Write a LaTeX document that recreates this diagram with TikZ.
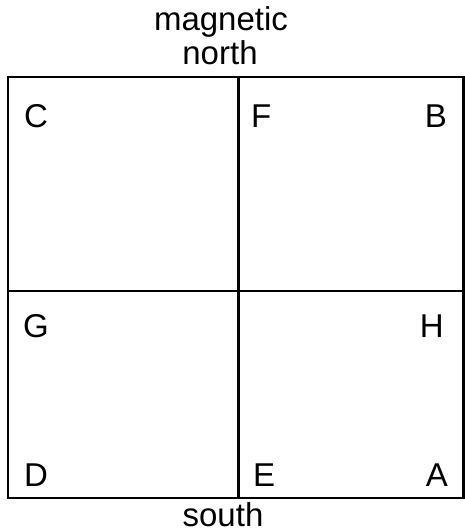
\documentclass[tikz,border=0pt]{standalone}
\usepackage{fontspec}
\setmainfont{Liberation Sans}
\begin{document}
\begin{tikzpicture}[x=1pt,y=-1pt,
  lbl/.style={inner sep=0pt,font=\fontsize{33}{36}\selectfont},
  frame/.style={line width=2.7pt,black}]
\useasboundingbox (0,0) rectangle (465,532);
\coordinate (tl) at (8,77);
\coordinate (br) at (463.5,498);
\coordinate (mt) at (238.5,77);
\coordinate (mb) at (238.5,498);
\coordinate (ml) at (8,291);
\coordinate (mr) at (463.5,291);
\draw[frame] (tl) rectangle (br);
\draw[frame] (mt) -- (mb);
\draw[frame] (ml) -- (mr);
\node[lbl,anchor=base] (mag) at (221,31) {magnetic};
\node[lbl,anchor=base] (nor) at (220,65) {north};
\node[lbl,anchor=base] (sou) at (223,526) {south};
\node[lbl,anchor=base west] (C) at (24,127) {C};
\node[lbl,anchor=base west] (F) at (251,127) {F};
\node[lbl,anchor=base east] (B) at (447,127) {B};
\node[lbl,anchor=base west] (G) at (23,337) {G};
\node[lbl,anchor=base east] (H) at (444,337) {H};
\node[lbl,anchor=base west] (D) at (24,486) {D};
\node[lbl,anchor=base west] (E) at (253,486) {E};
\node[lbl,anchor=base east] (A) at (448,486) {A};
\end{tikzpicture}
\end{document}
